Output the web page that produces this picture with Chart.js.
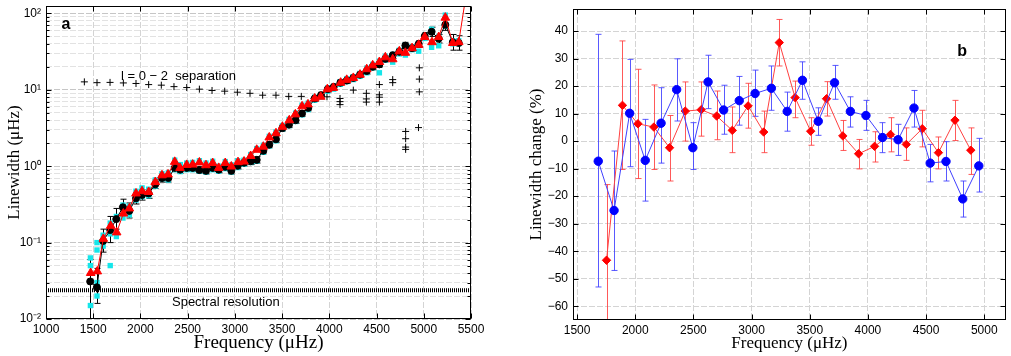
<!DOCTYPE html>
<html>
<head>
<meta charset="utf-8">
<script src="https://cdn.jsdelivr.net/npm/chart.js"></script>
<style>
  html, body { margin: 0; padding: 0; background: #fff; }
  #wrapA { position: absolute; left: 0; top: 0; width: 500px; height: 356px; }
  #wrapB { position: absolute; left: 515px; top: 0; width: 496px; height: 356px; }
</style>
</head>
<body>
<div id="wrapA"><canvas id="chartA" width="500" height="356"></canvas></div>
<div id="wrapB"><canvas id="chartB" width="496" height="356"></canvas></div>
<script>
// ---- panel a: linewidth vs frequency ----
const modeFreq = [1468, 1539, 1605, 1680, 1744, 1814, 1882, 1953, 2017, 2087, 2157, 2228, 2296, 2363, 2421,
  2490, 2553, 2624, 2694, 2765, 2829, 2898, 2962, 3030, 3097, 3167, 3231, 3301, 3364, 3435, 3503, 3573,
  3643, 3711, 3777, 3845, 3912, 3983, 4046, 4117, 4184, 4254, 4325, 4396, 4459, 4530, 4593, 4671, 4741,
  4805, 4876, 4946, 5010, 5083, 5158, 5228, 5307, 5370];
const blackWidth = [0.031, 0.026, 0.105, 0.146, 0.203, 0.29, 0.26, 0.38, 0.42, 0.44, 0.58, 0.70, 0.70, 0.95, 0.90,
  0.95, 0.95, 0.89, 0.87, 0.95, 0.90, 0.98, 0.87, 1.01, 1.11, 1.16, 1.21, 1.59, 1.91, 2.25, 3.15, 3.5,
  4.0, 4.9, 5.8, 7.7, 8.5, 10.2, 10.9, 12.4, 13.2, 14.3, 15.8, 17.6, 20, 21.5, 25.4, 28.3, 31.4,
  37.9, 35.1, 39.9, 50.4, 57.5, 46.8, 71, 42, 41];
const blackLow = [0.008, 0.016, 0.075, 0.10, 0.15, 0.23, 0.21, 0.32, 0.36, 0.38, 0.51, 0.62, 0.62, 0.85, 0.81,
  0.86, 0.86, 0.81, 0.79, 0.86, 0.82, 0.89, 0.79, 0.92, 1.01, 1.05, 1.10, 1.45, 1.74, 2.05, 2.88, 3.2,
  3.65, 4.5, 5.3, 7.05, 7.8, 9.35, 10.0, 11.4, 12.1, 13.1, 14.5, 16.1, 18.3, 19.7, 23.2, 25.8, 28.5,
  34.3, 31.8, 36, 45, 50, 41, 60, 33, 33];
const blackHigh = [0.060, 0.046, 0.15, 0.22, 0.28, 0.37, 0.33, 0.45, 0.49, 0.51, 0.66, 0.79, 0.79, 1.06, 1.00,
  1.05, 1.05, 0.98, 0.96, 1.04, 0.99, 1.07, 0.96, 1.11, 1.22, 1.28, 1.33, 1.74, 2.10, 2.47, 3.45, 3.8,
  4.4, 5.35, 6.3, 8.4, 9.3, 11.1, 11.9, 13.5, 14.4, 15.6, 17.2, 19.2, 21.8, 23.5, 27.8, 31, 34.5,
  41.8, 38.7, 44, 56, 66, 53, 84, 53, 51];
const redFreq = [1473, 1543, 1607, 1685, 1748, 1819, 1882, 1953, 2017, 2087, 2157, 2228, 2292, 2363, 2419,
  2490, 2553, 2624, 2694, 2765, 2829, 2898, 2962, 3033, 3097, 3167, 3231, 3301, 3364, 3435, 3503, 3576,
  3640, 3711, 3774, 3845, 3909, 3979, 4042, 4120, 4184, 4254, 4325, 4396, 4459, 4530, 4593, 4671, 4741,
  4805, 4876, 4946, 5010, 5087, 5158, 5228, 5307, 5370, 5455];
const redWidth = [0.040, 0.042, 0.112, 0.166, 0.136, 0.24, 0.28, 0.44, 0.47, 0.46, 0.62, 0.76, 0.78, 1.14, 0.95,
  1.04, 1.05, 1.12, 1.03, 1.10, 0.95, 1.10, 0.99, 1.13, 1.15, 1.36, 1.64, 1.80, 2.38, 2.70, 3.28, 3.99,
  4.77, 6.07, 6.44, 7.7, 8.11, 10.2, 10.6, 12.4, 13.5, 14.3, 15.8, 18.6, 20.9, 23.1, 26.6, 25.1, 31.9,
  30.5, 35.1, 38.8, 49.2, 42, 49, 88, 41, 42, 200];
const cyanFreq = [1470, 1470, 1470, 1540, 1540, 1540, 1540, 1605, 1605, 1680, 1680, 1680,
  1745, 1745, 1815, 1815, 1882, 1882, 1953, 1953, 2017, 2017, 2087, 2087, 2157, 2157, 2228, 2228,
  2295, 2295, 2363, 2363, 2422, 2422, 2490, 2490, 2553, 2553, 2624, 2624, 2694, 2694, 2765, 2765,
  2829, 2829, 2898, 2898, 2962, 2962, 3030, 3030, 3097, 3097, 3167, 3167, 3231, 3231, 3301, 3301,
  3364, 3364, 3435, 3435, 3503, 3503, 3573, 3573, 3643, 3643, 3711, 3711, 3777, 3777, 3845, 3845,
  3912, 3912, 3983, 3983, 4046, 4046, 4117, 4117, 4184, 4184, 4254, 4254, 4325, 4325, 4396, 4396,
  4459, 4459, 4530, 4530, 4593, 4593, 4671, 4671, 4741, 4741, 4805, 4805, 4876, 4876, 4946, 4946,
  5010, 5010, 5083, 5083, 5158, 5158, 5228, 5228, 5307, 5307, 5370, 5370];
const cyanWidth = [0.063, 0.015, 0.05, 0.10, 0.08, 0.020, 0.03, 0.125, 0.09, 0.18, 0.050, 0.13,
  0.22, 0.12, 0.31, 0.21, 0.30, 0.23, 0.47, 0.36, 0.52, 0.40, 0.50, 0.41, 0.66, 0.55, 0.80, 0.68,
  0.82, 0.66, 1.20, 0.90, 1.05, 0.85, 1.10, 0.90, 1.12, 0.90, 1.18, 0.86, 1.10, 0.84, 1.16, 0.90,
  1.00, 0.86, 1.15, 0.93, 1.04, 0.84, 1.18, 0.96, 1.20, 1.06, 1.42, 1.12, 1.70, 1.16, 1.88, 1.52,
  2.46, 1.84, 2.80, 2.15, 3.40, 3.05, 4.10, 3.40, 4.95, 3.85, 6.30, 4.70, 6.70, 5.50, 8.0, 7.3,
  8.4, 8.0, 10.6, 9.6, 11.0, 10.2, 12.8, 11.8, 14.0, 12.8, 14.8, 13.6, 16.4, 15.0, 19.2, 16.7,
  21.5, 19.4, 23.8, 16.7, 27.5, 24.6, 29.0, 23.0, 33.0, 29.5, 38.5, 28.5, 36.5, 33.5, 40.5, 32.0,
  51, 47, 62, 36, 50, 37.7, 95, 68, 44, 40, 44, 40];
// l=0-2 separation (plus signs)
const sepFreq = [1406, 1540, 1678, 1819, 1953, 2087, 2221, 2355, 2490, 2624, 2758, 2892, 3026, 3160,
  3294, 3435, 3570, 3703, 3838, 3975, 4113, 4113, 4113, 4254, 4392, 4392, 4392, 4530, 4530, 4530, 4530,
  4671, 4671, 4808, 4808, 4808, 4808, 4953, 4953, 4953, 4944];
const sepWidth = [12.7, 12.4, 12.5, 12.3, 12.1, 11.7, 11.5, 11.0, 10.7, 10.2, 9.8, 9.6, 9.3, 9.0,
  8.5, 8.5, 8.2, 8.2, 7.7, 8.1, 7.7, 7.0, 6.4, 9.9, 9.0, 7.6, 6.9, 11.7, 8.6, 8.0, 6.9,
  13.6, 12.4, 2.85, 2.29, 1.78, 1.66, 19.4, 13.8, 9.4, 3.2];
const specRes = 0.0238;
const xTicksA = [1000, 1500, 2000, 2500, 3000, 3500, 4000, 4500, 5000, 5500];
const logDecades = [0.01, 0.1, 1, 10, 100];
const logDecadeLabels = ['10⁻²', '10⁻¹', '10⁰', '10¹', '10²'];

// ---- panel b: linewidth change ----
const blueFreq = [1682, 1818, 1952, 2086, 2222, 2356, 2495, 2626, 2760, 2894, 3030, 3170, 3306, 3437,
  3573, 3713, 3849, 3983, 4125, 4259, 4396, 4535, 4671, 4815, 4953];
const blueChange = [-7.3, -25.2, 10.1, -7.0, 6.5, 18.7, -2.4, 21.5, 11.3, 14.7, 17.3, 19.2, 10.8, 22.1,
  7.2, 21.2, 10.8, 9.3, 1.3, 0.5, 12.0, -8.0, -7.4, -21, -9.0];
const blueLow = [-53, -47, -9.3, -21.8, -8, 7.3, -10.3, 11.8, 2.5, 5.8, 9, 11.2, 3.6, 15.2,
  2.1, 15.2, 5.1, 3.9, -4.2, -5.2, 5.1, -14.8, -14.5, -27.6, -18.5];
const blueHigh = [38.8, -3.6, 29.7, 7.9, 19.4, 29.9, 6.7, 31.2, 20.3, 23.5, 25.8, 27.3, 17.8, 28.8,
  12.1, 27.5, 16.1, 14.8, 6.7, 6.1, 18.4, -1.2, -0.2, -14.5, 1.0];
const diamFreq = [1753, 1890, 2023, 2160, 2295, 2430, 2567, 2700, 2834, 2970, 3104, 3238, 3374, 3508,
  3644, 3784, 3920, 4057, 4194, 4330, 4467, 4606, 4748, 4884];
const diamChange = [-43.3, 13.0, 6.3, 5.1, -2.4, 10.9, 11.4, 9.1, 3.9, 12.8, 3.3, 35.8, 15.8, 3.6,
  15.4, 1.9, -4.6, -1.9, 2.4, -1.2, 4.5, -4.2, 7.6, -3.3];
const diamLow = [-80, -10.3, -13.6, -10.3, -14.5, 0, 1.8, 0.5, -4.2, 4.7, -4.2, 27.3, 8.5, -1.5,
  9.1, -3.4, -10.1, -7.6, -3.9, -7.0, -2.1, -10.1, 0.2, -12.1];
const diamHigh = [-15.8, 36.4, 26.1, 20.4, 9.3, 21.5, 21.5, 18.2, 12.4, 21.0, 10.9, 44.2, 21.8, 8.5,
  21.6, 7.5, 0.6, 3.4, 8.5, 4.8, 11.2, 1.5, 14.8, 4.8];
const xTicksB = [1500, 2000, 2500, 3000, 3500, 4000, 4500, 5000];
const yTicksB = [-60, -50, -40, -30, -20, -10, 0, 10, 20, 30, 40];

const SANS = 'Liberation Sans, Arial, Helvetica, sans-serif';
const SERIF = 'Liberation Serif, Times New Roman, serif';
const tickFont = { family: SANS, size: 12 };

const pts = (xs, ys) => xs.map((x, i) => ({ x, y: ys[i] }));

// error bars, drawn under the markers
function makeErrorBars(sets) {
  return {
    id: 'errorBars',
    beforeDatasetsDraw(chart) {
      const { ctx, chartArea: a, scales: { x, y } } = chart;
      ctx.save();
      ctx.beginPath();
      ctx.rect(a.left, a.top, a.right - a.left, a.bottom - a.top);
      ctx.clip();
      sets.forEach(s => {
        ctx.strokeStyle = s.color;
        ctx.lineWidth = 1;
        ctx.beginPath();
        s.x.forEach((fx, i) => {
          const px = Math.round(x.getPixelForValue(fx)) + 0.5;
          const lo = y.getPixelForValue(s.lo[i]);
          const hi = y.getPixelForValue(s.hi[i]);
          ctx.moveTo(px, lo); ctx.lineTo(px, hi);
          ctx.moveTo(px - s.cap, lo); ctx.lineTo(px + s.cap, lo);
          ctx.moveTo(px - s.cap, hi); ctx.lineTo(px + s.cap, hi);
        });
        ctx.stroke();
      });
      ctx.restore();
    }
  };
}

// box, inward ticks and text notes
function makeFrame(notes, majors) {
  return {
    id: 'frame',
    afterDraw(chart) {
      const { ctx, chartArea: a, scales: { x, y } } = chart;
      ctx.save();
      ctx.strokeStyle = '#000';
      ctx.lineWidth = 1;
      const L = Math.round(a.left) + 0.5, T = Math.round(a.top) + 0.5;
      const R = Math.round(a.right) - 0.5, B = Math.round(a.bottom) - 0.5;
      ctx.strokeRect(L, T, R - L, B - T);
      ctx.beginPath();
      x.ticks.forEach(t => {
        const p = Math.round(x.getPixelForValue(t.value)) + 0.5;
        ctx.moveTo(p, B); ctx.lineTo(p, B - 5);
        ctx.moveTo(p, T); ctx.lineTo(p, T + 5);
      });
      y.ticks.forEach(t => {
        const p = Math.round(y.getPixelForValue(t.value)) + 0.5;
        const len = (!majors || majors.includes(t.value)) ? 5 : 3;
        ctx.moveTo(L, p); ctx.lineTo(L + len, p);
        ctx.moveTo(R, p); ctx.lineTo(R - len, p);
      });
      ctx.stroke();
      ctx.fillStyle = '#000';
      ctx.textBaseline = 'middle';
      notes.forEach(n => {
        ctx.font = n.font;
        ctx.textAlign = n.align;
        ctx.fillText(n.text, x.getPixelForValue(n.x), y.getPixelForValue(n.y));
      });
      ctx.restore();
    }
  };
}

const logTicks = [];
logDecades.slice(0, -1).forEach(d => {
  for (let k = 1; k <= 9; k++) logTicks.push(+(d * k).toPrecision(3));
});
logTicks.push(100);

new Chart(document.getElementById('chartA'), {
  type: 'scatter',
  data: {
    datasets: [
      {
        data: pts(redFreq, redWidth),
        showLine: true,
        borderColor: '#ff0000',
        backgroundColor: '#ff0000',
        borderWidth: 1,
        pointStyle: 'triangle',
        pointRadius: c => (c.dataIndex === redFreq.length - 1 ? 0 : 5),
        pointBorderWidth: 1,
      },
      {
        data: pts(modeFreq, blackWidth),
        showLine: true,
        borderColor: '#000',
        backgroundColor: '#000',
        borderWidth: 1,
        pointStyle: 'circle',
        pointRadius: 3.5,
      },
      {
        data: pts(cyanFreq, cyanWidth),
        borderColor: '#14e6ea',
        backgroundColor: '#14e6ea',
        pointStyle: 'rect',
        pointRadius: 3.8,
        pointBorderWidth: 0,
      },
      {
        data: pts(sepFreq, sepWidth),
        borderColor: '#000',
        backgroundColor: '#000',
        pointStyle: 'cross',
        pointRadius: 3.5,
        pointBorderWidth: 1,
      },
      {
        data: [{ x: 1000, y: specRes }, { x: 5500, y: specRes }],
        showLine: true,
        borderColor: '#000',
        borderWidth: 4,
        borderDash: [1, 1],
        pointRadius: 0,
      },
    ],
  },
  options: {
    responsive: false,
    animation: false,
    layout: { padding: { left: 0, top: 3, right: 29, bottom: 0 } },
    plugins: { legend: { display: false }, tooltip: { enabled: false } },
    scales: {
      x: {
        type: 'linear',
        min: 1000,
        max: 5500,
        afterBuildTicks: s => { s.ticks = xTicksA.map(v => ({ value: v })); },
        afterFit: s => { s.height = 37; s.paddingLeft = 0; s.paddingRight = 0; },
        ticks: { font: tickFont, color: '#000', padding: 3, autoSkip: false, maxRotation: 0, callback: v => String(v) },
        grid: { color: '#d4d4d4', drawTicks: false },
        border: { display: false, dash: [6, 2] },
        title: { display: true, text: 'Frequency (μHz)', font: { family: SERIF, size: 19 }, color: '#000', padding: { top: 0, bottom: 2 } },
      },
      y: {
        type: 'logarithmic',
        min: 0.01,
        max: 125,
        afterBuildTicks: s => { s.ticks = logTicks.map(v => ({ value: v })); },
        afterFit: s => { s.width = 46; s.paddingTop = 0; s.paddingBottom = 0; },
        ticks: {
          font: tickFont, color: '#000', padding: 5, autoSkip: false,
          callback: v => { const i = logDecades.indexOf(v); return i >= 0 ? logDecadeLabels[i] : ''; },
        },
        grid: { color: c => (logDecades.includes(c.tick && c.tick.value) ? '#c6c6c6' : '#e2e2e2'), drawTicks: false },
        border: { display: false, dash: [6, 2] },
        title: { display: true, text: 'Linewidth (μHz)', font: { family: SERIF, size: 17 }, color: '#000', padding: { top: 4, bottom: 0 } },
      },
    },
  },
  plugins: [
    makeErrorBars([{ x: modeFreq, lo: blackLow, hi: blackHigh, color: '#000', cap: 3 }]),
    makeFrame([
      { text: 'a', x: 1212, y: 72, font: 'bold 16px ' + SANS, align: 'center' },
      { text: 'l = 0 − 2  separation', x: 1794, y: 15, font: '13px ' + SANS, align: 'left' },
      { text: 'Spectral resolution', x: 2334, y: 0.0166, font: '13px ' + SANS, align: 'left' },
    ], logDecades),
  ],
});

new Chart(document.getElementById('chartB'), {
  type: 'scatter',
  data: {
    datasets: [
      {
        data: pts(blueFreq, blueChange),
        showLine: true,
        borderColor: '#4040ff',
        backgroundColor: '#0000ff',
        borderWidth: 1,
        pointStyle: 'circle',
        pointRadius: 4.2,
        pointBorderColor: '#0000ff',
      },
      {
        data: pts(diamFreq, diamChange),
        showLine: true,
        borderColor: '#ff4040',
        backgroundColor: '#ff0000',
        borderWidth: 1,
        pointStyle: 'rectRot',
        pointRadius: 4.2,
        pointBorderColor: '#ff0000',
      },
    ],
  },
  options: {
    responsive: false,
    animation: false,
    layout: { padding: { left: 0, top: 9, right: 1, bottom: 0 } },
    plugins: { legend: { display: false }, tooltip: { enabled: false } },
    scales: {
      x: {
        type: 'linear',
        min: 1465,
        max: 5185,
        afterBuildTicks: s => { s.ticks = xTicksB.map(v => ({ value: v })); },
        afterFit: s => { s.height = 36; s.paddingLeft = 0; s.paddingRight = 0; },
        ticks: { font: tickFont, color: '#000', padding: 3, autoSkip: false, maxRotation: 0, callback: v => String(v) },
        grid: { color: '#d4d4d4', drawTicks: false },
        border: { display: false, dash: [6, 2] },
        title: { display: true, text: 'Frequency (μHz)', font: { family: SERIF, size: 17 }, color: '#000', padding: { top: 0, bottom: 2 } },
      },
      y: {
        type: 'linear',
        min: -65,
        max: 48,
        afterBuildTicks: s => { s.ticks = yTicksB.map(v => ({ value: v })); },
        afterFit: s => { s.width = 58; s.paddingTop = 0; s.paddingBottom = 0; },
        ticks: { font: tickFont, color: '#000', padding: 5, autoSkip: false, callback: v => (v < 0 ? '−' + (-v) : String(v)) },
        grid: { color: '#d4d4d4', drawTicks: false },
        border: { display: false, dash: [6, 2] },
        title: { display: true, text: 'Linewidth change (%)', font: { family: SERIF, size: 17 }, color: '#000', padding: { top: 11, bottom: 0 } },
      },
    },
  },
  plugins: [
    makeErrorBars([
      { x: blueFreq, lo: blueLow, hi: blueHigh, color: 'rgba(60,60,255,0.85)', cap: 3 },
      { x: diamFreq, lo: diamLow, hi: diamHigh, color: 'rgba(255,60,60,0.85)', cap: 3 },
    ]),
    makeFrame([
      { text: 'b', x: 4810, y: 32.7, font: 'bold 16px ' + SANS, align: 'center' },
    ], null),
  ],
});
</script>
</body>
</html>
